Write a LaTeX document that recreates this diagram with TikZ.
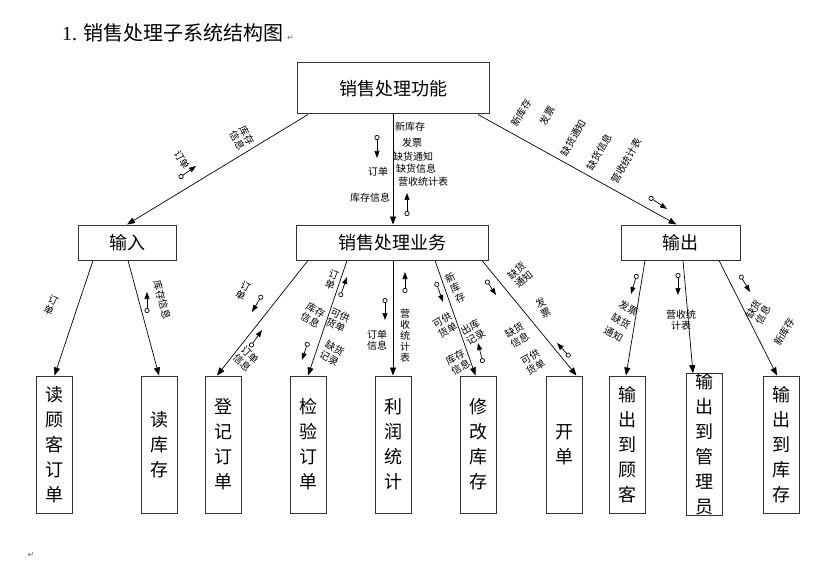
\documentclass[tikz,border=0pt]{standalone}
\usepackage{fontspec}
\setmainfont{Liberation Serif}
\newfontfamily\cjk{Noto Sans CJK SC}
\newfontfamily\symf{DejaVu Sans}
\usetikzlibrary{arrows.meta,positioning,calc}

\begin{document}
\begin{tikzpicture}[x=1pt,y=-1pt,
  font=\cjk,
  box/.style={draw=black!80, line width=1pt, minimum height=35pt, inner sep=0pt,
    font=\cjk\fontsize{18}{18}\selectfont},
  leaf/.style={draw=black!80, line width=1pt, minimum width=36pt, minimum height=137pt,
    inner sep=0pt, align=center, font=\cjk\fontsize{18}{25}\selectfont},
  lbl/.style={inner sep=0pt, align=center, font=\cjk\fontsize{10}{11}\selectfont},
  flow/.style={-{Triangle[length=8pt,width=6pt]}, line width=0.7pt},
  couple/.style={{Circle[open,length=5pt,width=5pt]}-{Triangle[length=7pt,width=5pt]}, line width=0.7pt}
]
\useasboundingbox (0,0) rectangle (816,572);

% title
\node[anchor=west, inner sep=0pt, font=\fontsize{20}{20}\selectfont] (title) at (62,33)
  {1. {\cjk 销售处理子系统结构图}\,{\symf\fontsize{8}{8}\selectfont\color{black!60}↵}};
\node[inner sep=0pt, font=\symf\fontsize{8}{8}\selectfont, text=black!60] (mark) at (31,555) {↵};

% upper levels
\node[box, minimum width=192pt, minimum height=51pt] (func) at (393,88.5) {销售处理功能};
\node[box, minimum width=98pt] (input) at (127,242.5) {输入};
\node[box, minimum width=192pt] (biz) at (392,242.5) {销售处理业务};
\node[box, minimum width=119pt] (output) at (680.5,242.5) {输出};

% leaves
\node[leaf] (readcust) at (54.5,444.5) {读\\顾\\客\\订\\单};
\node[leaf] (readstock) at (159,444.5) {读\\库\\存};
\node[leaf] (reg) at (223.5,444.5) {登\\记\\订\\单};
\node[leaf] (check) at (308.5,444.5) {检\\验\\订\\单};
\node[leaf] (profit) at (393,444.5) {利\\润\\统\\计};
\node[leaf] (modify) at (478,444.5) {修\\改\\库\\存};
\node[leaf] (bill) at (564,444.5) {开\\单};
\node[leaf] (tocust) at (627,444.5) {输\\出\\到\\顾\\客};
\node[leaf] (tomgr) at (704.5,444.5) {输\\出\\到\\管\\理\\员};
\node[leaf] (tostock) at (781,444.5) {输\\出\\到\\库\\存};

% connectors
\draw[flow] ([xshift=-85]func.south) -- (input.north);
\draw[flow] (func.south) -- (func.south |- biz.north);
\draw[flow] ([xshift=85]func.south) -- ([xshift=-4]output.north);
\draw[flow] ([xshift=-34]input.south) -- (readcust.north);
\draw[flow] ([xshift=1]input.south) -- (readstock.north);
\draw[flow] ([xshift=-84]biz.south) -- ([xshift=-6.5]reg.north);
\draw[flow] ([xshift=-45]biz.south) -- ([xshift=-0.5]check.north);
\draw[flow] (profit.north |- biz.south) -- (profit.north);
\draw[flow] ([xshift=43]biz.south) -- ([xshift=-2.5]modify.north);
\draw[flow] ([xshift=90]biz.south) -- ([xshift=12.5]bill.north);
\draw[flow] ([xshift=-35.5]output.south) -- ([xshift=-1]tocust.north);
\draw[flow] ([xshift=2.5]output.south) -- ([xshift=-11.5]tomgr.north);
\draw[flow] ([xshift=38.5]output.south) -- ([xshift=-4]tostock.north);

% data couples
\draw[couple] (179,178) -- (196,166);
\draw[couple] (377,135) -- (377,158);
\draw[couple] (407,216) -- (407,193);
\draw[couple] (649,197) -- (667,209);
\draw[couple] (147,313) -- (147,292);
\draw[couple] (262,295) -- (252,312);
\draw[couple] (250,347) -- (262,330);
\draw[couple] (340,297) -- (347,277);
\draw[couple] (308,342) -- (302,360);
\draw[couple] (385,298) -- (385,320);
\draw[couple] (405,293) -- (405,272);
\draw[couple] (436,282) -- (443,302);
\draw[couple] (483,363) -- (478,343);
\draw[couple] (486,280) -- (496,295);
\draw[couple] (570,357) -- (557,343);
\draw[couple] (637,274) -- (631,294);
\draw[couple] (678,273) -- (678,295);
\draw[couple] (740,275) -- (750,292);

% labels, top level
\node[lbl, rotate=-60] (l1) at (182,160) {订单};
\node[lbl, rotate=-60] (l2) at (242,138) {库存\\信息};
\node[lbl] (c1) at (410,127) {新库存};
\node[lbl] (c2) at (412,143) {发票};
\node[lbl] (c3) at (413,157) {缺货通知};
\node[lbl] (c4) at (416,169) {缺货信息};
\node[lbl] (c5) at (378,172) {订单};
\node[lbl] (c6) at (423,182) {营收统计表};
\node[lbl] (c7) at (370,198) {库存信息};
\node[lbl, rotate=60] (r1) at (521,113) {新库存};
\node[lbl, rotate=60] (r2) at (547,116) {发票};
\node[lbl, rotate=60] (r3) at (573,138) {缺货通知};
\node[lbl, rotate=60] (r4) at (599,152) {缺货信息};
\node[lbl, rotate=60] (r5) at (626,161) {营收统计表};

% labels, lower level
\node[lbl, rotate=-25] (a1) at (51,305) {订\\单};
\node[lbl, rotate=-75] (a2) at (162,300) {库存信息};
\node[lbl, rotate=-27] (b1) at (243,291) {订\\单};
\node[lbl, rotate=-45] (b2) at (246,359) {订单\\信息};
\node[lbl, rotate=-20] (b3) at (332,280) {订\\单};
\node[lbl, rotate=-30] (b4) at (313,315) {库存\\信息};
\node[lbl, rotate=-25] (b5) at (338,320) {可供\\货单};
\node[lbl, rotate=-30] (b6) at (332,353) {缺货\\记录};
\node[lbl] (b7) at (377,340) {订单\\信息};
\node[lbl] (b8) at (405,336) {营\\收\\统\\计\\表};
\node[lbl, rotate=27] (d1) at (455,288) {新\\库\\存};
\node[lbl, rotate=30] (d2) at (445,325) {可供\\货单};
\node[lbl, rotate=30] (d3) at (473,332) {出库\\记录};
\node[lbl, rotate=30] (d4) at (458,362) {库存\\信息};
\node[lbl, rotate=40] (e1) at (520,275) {缺货\\通知};
\node[lbl, rotate=27] (e2) at (543,308) {发\\票};
\node[lbl, rotate=30] (e3) at (517,335) {缺货\\信息};
\node[lbl, rotate=30] (e4) at (533,362) {可供\\货单};
\node[lbl, rotate=-30, font=\cjk\fontsize{10}{15}\selectfont] (f1) at (621,321) {发票\\缺货\\通知};
\node[lbl] (f2) at (681,320) {营收统\\计表};
\node[lbl, rotate=60] (f3) at (758,312) {缺货\\信息};
\node[lbl, rotate=60] (f4) at (784,332) {新库存};
\end{tikzpicture}
\end{document}
